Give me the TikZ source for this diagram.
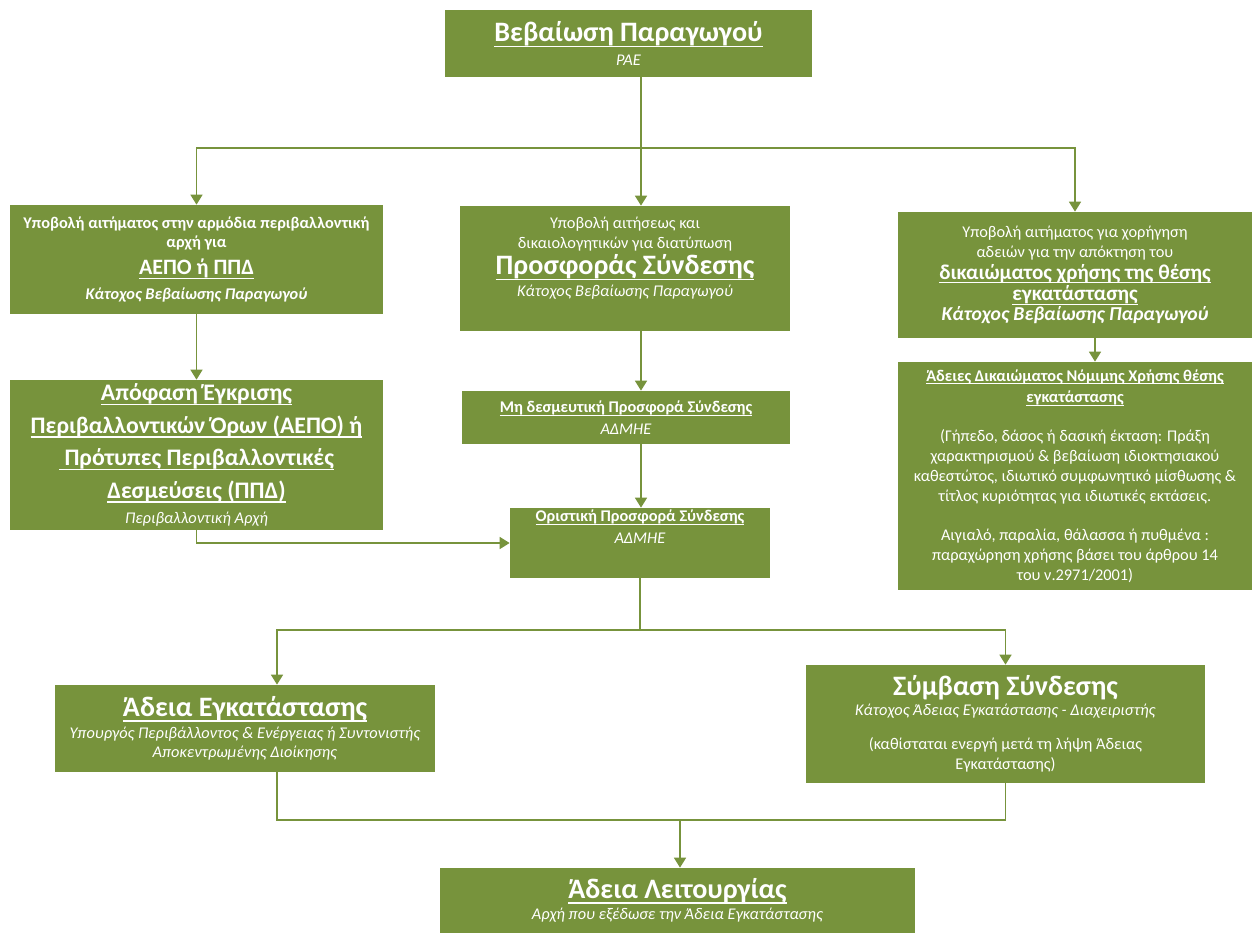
\documentclass[tikz,border=0pt]{standalone}
\usepackage{fontspec}
\setmainfont{Carlito}
\usepackage{xcolor}
\usetikzlibrary{positioning,arrows.meta}
\definecolor{boxgreen}{RGB}{119,147,60}
\def\px{0.02cm}
\newcommand{\ulin}[1]{\setbox0=\hbox{#1}\rlap{\rule[-0.2em]{\wd0}{0.065em}}\box0}
\newcommand{\fsm}{\fontsize{9.3}{11.3}\selectfont}
\newcommand{\fmd}{\fontsize{13.5}{17.5}\selectfont}
\newcommand{\fbg}{\fontsize{16}{19}\selectfont}

\begin{document}
\begin{tikzpicture}[x=0.02cm, y=-0.02cm, >={Triangle[length=0.2cm,width=0.24cm]}]
  \tikzstyle{blk}=[rectangle,fill=boxgreen,text=white,align=center,inner sep=0pt,font=\fsm]
  \tikzstyle{conn}=[draw=boxgreen,line width=0.9pt]
  \useasboundingbox (0,0) rectangle (1254,933);

  % top
  \node[blk,minimum width=367*\px,minimum height=67*\px] (bebaiosi) at (628.5,43.5)
    {{\fbg\bfseries\ulin{Βεβαίωση Παραγωγού}}\\[2pt] \textit{ΡΑΕ}};

  % first row
  \node[blk,font=\fsm\bfseries,minimum width=373*\px,minimum height=109*\px] (aepoReq) at (196.5,259.5)
    {Υποβολή αιτήματος στην αρμόδια περιβαλλοντική\\ αρχή για\\[4pt]
     {\fontsize{12.5}{15}\selectfont\ulin{ΑΕΠΟ ή ΠΠΔ}}\\[3pt] \textit{Κάτοχος Βεβαίωσης Παραγωγού}};
  \node[blk,minimum width=330*\px,minimum height=125*\px] (prosforaReq) at (625,268.5)
    {Υποβολή αιτήσεως και\\ δικαιολογητικών για διατύπωση\\[1pt]
     {\fbg\bfseries\ulin{Προσφοράς Σύνδεσης}}\\[1pt] \textit{Κάτοχος Βεβαίωσης Παραγωγού}\\[2pt]};
  \node[blk,minimum width=354*\px,minimum height=126*\px] (thesiReq) at (1075,275)
    {Υποβολή αιτήματος για χορήγηση\\ αδειών για την απόκτηση του\\[1pt]
     {\fontsize{12}{14}\selectfont\bfseries\ulin{δικαιώματος χρήσης της θέσης}}\\[1pt]
     {\fontsize{12}{14}\selectfont\bfseries\ulin{εγκατάστασης}}\\
     {\fontsize{11.2}{12}\selectfont\bfseries\itshape Κάτοχος Βεβαίωσης Παραγωγού}};

  % second row
  \node[blk,font=\fmd\bfseries,minimum width=373*\px,minimum height=150*\px] (aepo) at (196.5,455)
    {\ulin{Απόφαση Έγκρισης}\\[1pt] \ulin{Περιβαλλοντικών Όρων (ΑΕΠΟ) ή}\\[1pt]
     \ulin{ Πρότυπες Περιβαλλοντικές}\\[1pt] \ulin{Δεσμεύσεις (ΠΠΔ)}\\[-3pt]
     {\fsm\mdseries\itshape Περιβαλλοντική Αρχή}};
  \node[blk,minimum width=328*\px,minimum height=53*\px] (mhDesm) at (626,417.5)
    {\textbf{\ulin{Μη δεσμευτική Προσφορά Σύνδεσης}}\\[1pt] \textit{ΑΔΜΗΕ}};
  \node[blk,minimum width=354*\px,minimum height=228*\px] (adeiesThesis) at (1075,476)
    {\textbf{\ulin{Άδειες Δικαιώματος Νόμιμης Χρήσης θέσης}}\\[1pt] \textbf{\ulin{εγκατάστασης}}\\[11pt]
     (Γήπεδο, δάσος ή δασική έκταση: Πράξη\\ χαρακτηρισμού \& βεβαίωση ιδιοκτησιακού\\
     καθεστώτος, ιδιωτικό συμφωνητικό μίσθωσης \&\\ τίτλος κυριότητας για ιδιωτικές εκτάσεις.\\[11pt]
     Αιγιαλό, παραλία, θάλασσα ή πυθμένα :\\ παραχώρηση χρήσης βάσει του άρθρου 14\\ του ν.2971/2001)};
  \node[blk,minimum width=260*\px,minimum height=70*\px] (oristiki) at (640,543)
    {\textbf{\ulin{Οριστική Προσφορά Σύνδεσης}}\\[1pt] \textit{ΑΔΜΗΕ}\\[7pt]};

  % third row
  \node[blk,minimum width=380*\px,minimum height=87*\px] (adeiaEgk) at (245,728.5)
    {{\fbg\bfseries\ulin{Άδεια Εγκατάστασης}}\\[1pt]
     \textit{Υπουργός Περιβάλλοντος \& Ενέργειας ή Συντονιστής}\\ \textit{Αποκεντρωμένης Διοίκησης}};
  \node[blk,minimum width=399*\px,minimum height=118*\px] (symvasi) at (1005.5,724)
    {{\fbg\bfseries Σύμβαση Σύνδεσης}\\ \textit{Κάτοχος Άδειας Εγκατάστασης - Διαχειριστής}\\[8pt]
     (καθίσταται ενεργή μετά τη λήψη Άδειας\\ Εγκατάστασης)};
  \node[blk,minimum width=475*\px,minimum height=65*\px] (adeiaLeit) at (677.5,900.5)
    {{\fbg\bfseries\ulin{Άδεια Λειτουργίας}}\\[1pt] \textit{Αρχή που εξέδωσε την Άδεια Εγκατάστασης}};

  % connectors
  \coordinate (j1) at (641,148);
  \coordinate (r1) at (1095,0);
  \coordinate (j2) at (640,630);
  \coordinate (kl) at (277,0);
  \coordinate (j3) at (680,820);
  \draw[conn] (bebaiosi.south -| j1) -- (j1);
  \draw[conn,->] (j1) -| (aepoReq.north);
  \draw[conn,->] (j1) -- (j1 |- prosforaReq.north);
  \draw[conn,->] (j1) -| (thesiReq.north);
  \draw[conn,->] (aepoReq) -- (aepo);
  \draw[conn,->] (prosforaReq.south -| j1) -- (mhDesm.north -| j1);
  \draw[conn,->] (thesiReq.south -| r1) -- (adeiesThesis.north -| r1);
  \draw[conn,->] (mhDesm.south -| j1) -- (oristiki.north -| j1);
  \draw[conn,->] (aepo.south) |- (oristiki.west);
  \draw[conn] (oristiki.south) -- (j2);
  \draw[conn,->] (j2) -| (adeiaEgk.north -| kl);
  \draw[conn,->] (j2) -| (symvasi.north);
  \draw[conn] (adeiaEgk.south -| kl) |- (j3);
  \draw[conn] (symvasi.south) |- (j3);
  \draw[conn,->] (j3) -- (adeiaLeit.north -| j3);
\end{tikzpicture}
\end{document}
